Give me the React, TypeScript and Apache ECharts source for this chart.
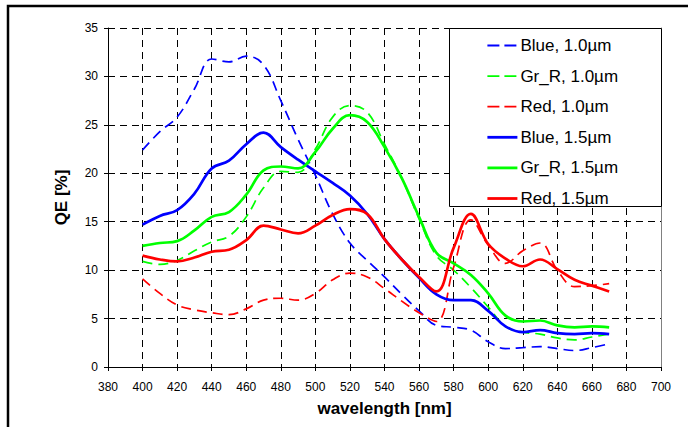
import React, { useEffect, useRef } from 'react';
import * as echarts from 'echarts';

const wavelengths = [400, 410, 420, 430, 440, 450, 460, 470, 480, 490, 500, 510, 520, 530, 540, 550, 560, 570, 580, 590, 600, 610, 620, 630, 640, 650, 660, 670];

const blue10 = [22.4, 24.3, 25.8, 28.7, 31.8, 31.5, 32.1, 31.2, 27.5, 23.5, 19.8, 15.8, 12.8, 11.0, 9.3, 7.5, 5.8, 4.3, 4.1, 3.8, 2.6, 1.9, 2.0, 2.1, 1.9, 1.7, 2.0, 2.4];
const green10 = [10.9, 10.6, 11.0, 12.0, 12.9, 13.5, 15.5, 18.5, 20.2, 20.1, 22.5, 25.8, 27.0, 26.3, 23.0, 19.5, 15.3, 11.5, 10.0, 8.2, 6.2, 4.2, 3.6, 3.4, 3.0, 2.8, 3.1, 3.4];
const red10 = [9.1, 7.6, 6.4, 5.9, 5.6, 5.4, 6.0, 6.9, 7.1, 6.9, 7.6, 9.0, 9.7, 9.3, 8.1, 6.8, 5.6, 4.7, 10.3, 15.2, 12.6, 10.7, 12.0, 12.8, 10.0, 8.3, 8.4, 8.6];
const blue15 = [14.7, 15.6, 16.2, 17.9, 20.5, 21.3, 23.0, 24.2, 22.7, 21.4, 20.2, 19.0, 17.7, 15.8, 13.2, 11.1, 9.2, 7.5, 6.9, 6.9, 5.8, 4.2, 3.6, 3.8, 3.5, 3.4, 3.5, 3.4];
const green15 = [12.5, 12.8, 13.0, 14.1, 15.5, 16.0, 17.8, 20.3, 20.7, 20.5, 22.2, 24.6, 26.0, 25.3, 22.7, 19.5, 15.5, 11.8, 10.7, 9.5, 7.6, 5.3, 4.7, 4.8, 4.3, 4.1, 4.2, 4.1];
const red15 = [11.5, 11.1, 10.9, 11.3, 11.9, 12.1, 13.1, 14.6, 14.2, 13.8, 14.6, 15.7, 16.3, 15.8, 13.2, 11.1, 9.3, 7.8, 12.3, 15.8, 12.7, 11.2, 10.4, 11.1, 10.1, 9.0, 8.4, 7.8];

const seriesNames = ['Blue, 1.0µm', 'Gr_R, 1.0µm', 'Red, 1.0µm', 'Blue, 1.5µm', 'Gr_R, 1.5µm', 'Red, 1.5µm'];
const seriesData = [blue10, green10, red10, blue15, green15, red15];
const seriesColors = ['#0000FF', '#00FF00', '#FF0000', '#0000FF', '#00FF00', '#FF0000'];
const seriesDashed = [true, true, true, false, false, false];

const xTicks = [380, 700, 20];
const yTicks = [0, 35, 5];

export default function App() {
  const ref = useRef<HTMLDivElement>(null);
  useEffect(() => {
    document.body.style.margin = '0';
    const chart = echarts.init(ref.current!, null, { renderer: 'svg' });
    const font = 'Liberation Sans, Arial, sans-serif';
    const xLineColors: string[] = [];
    for (let v = xTicks[0]; v <= xTicks[1]; v += xTicks[2]) {
      xLineColors.push(v === xTicks[0] || v === xTicks[1] ? 'rgba(0,0,0,0)' : '#000');
    }
    const yLineColors: string[] = [];
    for (let v = yTicks[0]; v <= yTicks[1]; v += yTicks[2]) {
      yLineColors.push(v === yTicks[0] ? 'rgba(0,0,0,0)' : '#000');
    }
    chart.setOption({
      animation: false,
      backgroundColor: '#fff',
      grid: { left: 108, top: 28, right: 27, bottom: 60 },
      xAxis: {
        type: 'value',
        min: xTicks[0],
        max: xTicks[1],
        interval: xTicks[2],
        name: 'wavelength [nm]',
        nameLocation: 'middle',
        nameGap: 33,
        nameTextStyle: { fontFamily: font, fontSize: 17, fontWeight: 'bold', color: '#000' },
        axisLine: { lineStyle: { color: '#000', width: 1 } },
        axisTick: { show: true, length: 4, lineStyle: { color: '#000' } },
        axisLabel: { fontFamily: font, fontSize: 12, color: '#000', margin: 14 },
        splitLine: { show: true, lineStyle: { color: xLineColors, type: [7, 5], width: 1 } },
      },
      yAxis: [
        {
          type: 'value',
          min: yTicks[0],
          max: yTicks[1],
          interval: yTicks[2],
          name: 'QE [%]',
          nameLocation: 'middle',
          nameGap: 38,
          nameTextStyle: { fontFamily: font, fontSize: 17, fontWeight: 'bold', color: '#000' },
          axisLine: { show: true, lineStyle: { color: '#000', width: 1 } },
          axisTick: { show: true, length: 4, lineStyle: { color: '#000' } },
          axisLabel: { fontFamily: font, fontSize: 12, color: '#000', margin: 10 },
          splitLine: { show: true, lineStyle: { color: yLineColors, type: [7, 5], width: 1 } },
        },
        {
          type: 'value',
          position: 'right',
          min: yTicks[0],
          max: yTicks[1],
          interval: yTicks[2],
          axisLine: { show: true, lineStyle: { color: '#808080', width: 1 } },
          axisTick: { show: false },
          axisLabel: { show: false },
          splitLine: { show: false },
        },
      ],
      legend: {
        left: 486,
        top: 37,
        padding: 0,
        orient: 'vertical',
        itemWidth: 30,
        itemHeight: 16,
        itemGap: 13.6,
        z: 50,
        itemStyle: { opacity: 0 },
        textStyle: { fontFamily: font, fontSize: 17, color: '#000', lineHeight: 16, padding: [0, 0, 0, -2] },
        data: seriesNames.map((name, i) => ({
          name,
          itemStyle: { opacity: 0 },
          lineStyle: {
            color: seriesColors[i],
            width: seriesDashed[i] ? 1.8 : 2.8,
            type: seriesDashed[i] ? [12, 5] : 'solid',
          },
        })),
      },
      graphic: [
        {
          type: 'rect',
          z: 40,
          shape: { x: 449.5, y: 28.5, width: 212, height: 178 },
          style: { fill: '#fff', stroke: '#000', lineWidth: 1 },
        },
        {
          type: 'polyline',
          z: 60,
          shape: { points: [[8, 427], [8, 6], [688, 6]] },
          style: { stroke: '#000', lineWidth: 2.5, fill: 'none' },
        },
      ],
      series: seriesNames.map((name, i) => ({
        name,
        type: 'line',
        smooth: 0.4,
        symbol: 'none',
        data: wavelengths.map((w, j) => [w, seriesData[i][j]]),
        lineStyle: {
          color: seriesColors[i],
          width: seriesDashed[i] ? 1.7 : 2.7,
          type: seriesDashed[i] ? [10, 6] : 'solid',
        },
        itemStyle: { color: seriesColors[i] },
      })),
    });
    return () => chart.dispose();
  }, []);
  return <div ref={ref} style={{ width: 688, height: 427 }} />;
}
